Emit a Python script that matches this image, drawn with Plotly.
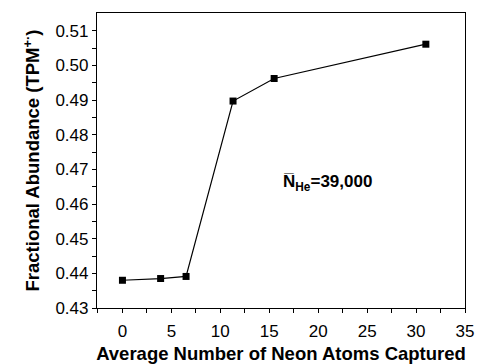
import plotly.graph_objects as go

# Average number of neon atoms captured vs. fractional abundance of TPM+.
neon_atoms = [0.0, 3.9, 6.5, 11.3, 15.5, 31.0]
abundance = [0.4380, 0.4385, 0.4391, 0.4897, 0.4962, 0.5061]

# Tick positions: labelled majors plus unlabelled half-step minors.
x_tick_vals = [-2.5, 0, 2.5, 5, 7.5, 10, 12.5, 15, 17.5, 20, 22.5, 25, 27.5, 30, 32.5, 35]
x_tick_text = ["", "0", "", "5", "", "10", "", "15", "", "20", "", "25", "", "30", "", "35"]
y_tick_vals = [0.43, 0.435, 0.44, 0.445, 0.45, 0.455, 0.46, 0.465, 0.47, 0.475,
               0.48, 0.485, 0.49, 0.495, 0.50, 0.505, 0.51]
y_tick_text = ["0.43", "", "0.44", "", "0.45", "", "0.46", "", "0.47", "",
               "0.48", "", "0.49", "", "0.50", "", "0.51"]

x_range = [-2.6, 35]
y_range = [0.43, 0.5151]

FONT = "Liberation Sans, Arial, sans-serif"

fig = go.Figure()
fig.add_trace(go.Scatter(
    x=neon_atoms, y=abundance, mode="lines+markers",
    line=dict(color="black", width=1.2),
    marker=dict(symbol="square", size=7, color="black"),
    showlegend=False,
))

axis_common = dict(
    showline=True, linecolor="black", linewidth=1.2, mirror=True,
    ticks="outside", ticklen=4, tickwidth=1.2, tickcolor="black",
    showgrid=False, zeroline=False, automargin=False,
    tickfont=dict(family=FONT, size=17, color="black"),
)

fig.update_xaxes(
    range=x_range, tickvals=x_tick_vals, ticktext=x_tick_text,
    ticklabelstandoff=3,
    title=dict(text="<b>Average Number of Neon Atoms Captured</b>",
               font=dict(family=FONT, size=18.5, color="black"), standoff=11),
    **axis_common,
)
fig.update_yaxes(
    range=y_range, tickvals=y_tick_vals, ticktext=y_tick_text,
    title=dict(text="<b>Fractional Abundance (TPM<sup>+·</sup>)</b>",
               font=dict(family=FONT, size=18.5, color="black"), standoff=10),
    **axis_common,
)

fig.add_annotation(
    x=20.9, y=0.4661, xref="x", yref="y", showarrow=False,
    text="<b>N\u0305<sub>He</sub>=39,000</b>",
    font=dict(family=FONT, size=17, color="black"),
)

fig.update_layout(
    width=477, height=364,
    margin=dict(l=97, r=12, t=13, b=56),
    paper_bgcolor="white", plot_bgcolor="white",
)

fig.write_html("out.html")
